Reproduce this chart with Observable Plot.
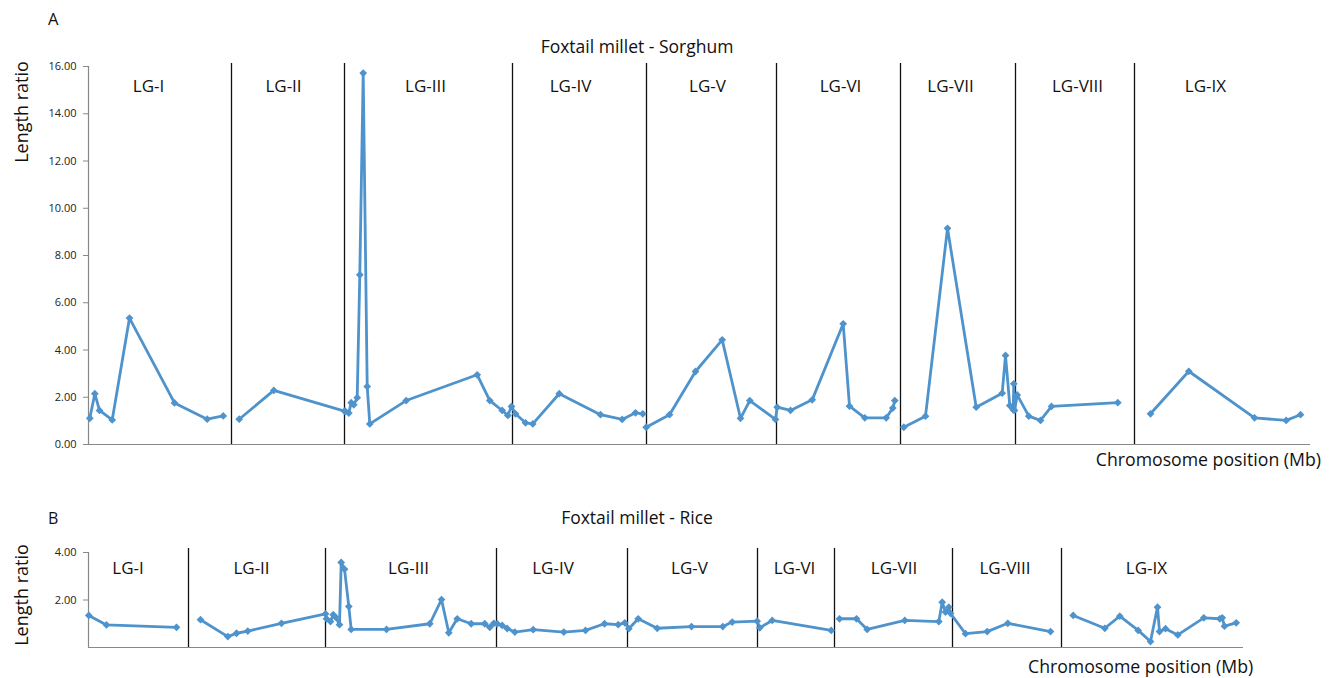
<!DOCTYPE html>
<html>
<head>
<meta charset="utf-8">
<script src="https://cdn.jsdelivr.net/npm/d3@7"></script>
<script src="https://cdn.jsdelivr.net/npm/@observablehq/plot@0.6"></script>
<style>
  html, body { margin: 0; padding: 0; background: #fff; }
  #wrap { position: relative; width: 1334px; height: 678px; font-family: "Open Sans", "Noto Sans", sans-serif; color: #111; overflow: hidden; }
  .abs { position: absolute; white-space: nowrap; line-height: 1; }
  .panel { position: absolute; left: 0; }
  .panel svg g[aria-label="y-axis tick"] path { stroke: #888; }
</style>
</head>
<body>
<div id="wrap">
  <div class="panel" id="panelA" style="top:0px"></div>
  <div class="panel" id="panelB" style="top:500px"></div>
  <div class="abs" style="left:48px;top:11px;font-size:16.5px">A</div>
  <div class="abs" style="left:637px;top:38px;font-size:17.5px;transform:translateX(-50%)">Foxtail millet - Sorghum</div>
  <div class="abs" style="left:21px;top:112px;font-size:18px;transform:translate(-50%,-50%) rotate(-90deg)">Length ratio</div>
  <div class="abs" style="right:13px;top:451px;font-size:17.7px">Chromosome position (Mb)</div>
  <div class="abs" style="left:48px;top:510px;font-size:16px">B</div>
  <div class="abs" style="left:637px;top:509px;font-size:17.5px;transform:translateX(-50%)">Foxtail millet - Rice</div>
  <div class="abs" style="left:21px;top:595px;font-size:18px;transform:translate(-50%,-50%) rotate(-90deg)">Length ratio</div>
  <div class="abs" style="left:1028px;top:658px;font-size:17.7px">Chromosome position (Mb)</div>
</div>
<script>
// ---------- shared ----------
const lgNames = ["LG-I","LG-II","LG-III","LG-IV","LG-V","LG-VI","LG-VII","LG-VIII","LG-IX"];

// ---------- Panel A: Foxtail millet - Sorghum ----------
const posA = [
  1.3, 6.3, 11, 23.7, 41, 86, 118.7, 134.7,
  150.7, 185.3, 256,
  257, 260.3, 262.7, 265.3, 268.7, 271.3, 274.7, 278.7, 281.3, 317.7, 388.7, 401.3, 413.7, 419.3, 423,
  427, 437, 444.3, 470.7, 512, 533.7, 547, 554.3,
  557.7, 581, 607, 633.7, 652, 661.3, 687,
  688.7, 702, 723.7, 754.7, 761, 776.3, 797.7, 804.3, 806.3,
  815.3, 837, 859, 887.7, 913.7, 917, 921.3, 924.7,
  925.3, 926, 928.7, 940.3, 952, 963, 1029.3,
  1062, 1100.3, 1166, 1197.7, 1212
];
const ratioA = [
  1.11, 2.15, 1.44, 1.04, 5.35, 1.76, 1.07, 1.21,
  1.07, 2.29, 1.41,
  1.40, 1.33, 1.77, 1.68, 1.98, 7.18, 15.72, 2.45, 0.87, 1.86, 2.95, 1.86, 1.44, 1.23, 1.61,
  1.30, 0.92, 0.87, 2.15, 1.26, 1.06, 1.34, 1.30,
  0.73, 1.26, 3.09, 4.43, 1.11, 1.86, 1.06,
  1.58, 1.44, 1.89, 5.11, 1.62, 1.13, 1.13, 1.54, 1.86,
  0.73, 1.20, 9.15, 1.58, 2.17, 3.77, 1.65, 1.47,
  2.57, 1.44, 2.10, 1.20, 1.02, 1.61, 1.77,
  1.30, 3.10, 1.13, 1.02, 1.26
];
const segA = [
  0,0,0,0,0,0,0,0,
  1,1,1,
  1,1,1,1,1,1,1,1,1,1,1,1,1,1,1,
  1,1,1,1,1,1,1,1,
  2,2,2,2,2,2,2,
  2,2,2,2,2,2,2,2,2,
  3,3,3,3,3,3,3,3,
  3,3,3,3,3,3,3,
  4,4,4,4,4
];
const sepA = [143, 256, 424, 558, 688, 812, 927, 1046];
const labelPosA = [60, 195, 337, 482, 619, 752, 862, 989, 1117];
const ticksA = [0, 2, 4, 6, 8, 10, 12, 14, 16];

// ---------- Panel B: Foxtail millet - Rice ----------
const posB = [
  0.3, 18, 88,
  112, 139.3, 148, 159.3, 193, 237,
  238, 242, 244.7, 247, 251, 252.7, 256, 260.3, 262.7, 298, 341.3, 353, 360.3, 368.7, 382.7, 396.3, 401.3, 405.3, 408.7,
  413.7, 418.7, 426.3, 444.7, 475.3, 497, 516, 529.7, 536.3,
  540.3, 549.7, 568.7, 603, 634.3, 643.7, 668.7,
  671.3, 683.7, 742.7,
  751, 768, 778.7, 816.3, 850.3, 853.7, 857, 860.3,
  862, 877, 898.7, 919.3, 962,
  984.7, 1016.3, 1031.3, 1049.7, 1062, 1069, 1071, 1077, 1089.3, 1115.3, 1131.3, 1133.7, 1136, 1147.7
];
const ratioB = [
  1.35, 0.95, 0.85,
  1.17, 0.46, 0.60, 0.69, 1.02, 1.42,
  1.21, 1.09, 1.38, 1.28, 0.96, 3.58, 3.30, 1.73, 0.76, 0.76, 1.00, 2.02, 0.62, 1.21, 1.00, 1.00, 0.85, 1.02, 1.00,
  0.93, 0.80, 0.65, 0.75, 0.65, 0.72, 1.00, 0.96, 1.04,
  0.79, 1.21, 0.81, 0.88, 0.88, 1.07, 1.11,
  0.83, 1.14, 0.72,
  1.21, 1.21, 0.76, 1.14, 1.09, 1.91, 1.49, 1.70,
  1.44, 0.58, 0.67, 1.02, 0.67,
  1.35, 0.81, 1.32, 0.72, 0.25, 1.70, 0.67, 0.79, 0.53, 1.25, 1.21, 1.25, 0.90, 1.04
];
const segB = [
  0,0,0,
  1,1,1,1,1,1,
  1,1,1,1,1,1,1,1,1,1,1,1,1,1,1,1,1,1,1,
  1,1,1,1,1,1,1,1,1,
  1,1,1,1,1,1,1,
  1,1,1,
  2,2,2,2,2,2,2,2,
  2,2,2,2,2,
  3,3,3,3,3,3,3,3,3,3,3,3,3,3
];
const sepB = [100, 237, 408, 539, 669, 746, 864, 973];
const labelPosB = [39.5, 163, 320, 464.5, 601, 706, 805.5, 916.5, 1058];
const ticksB = [2, 4];

// ---------- drawing ----------
const lineColor = "#4f93cc";
const axisGray = "#888888";

function panel({pos, ratio, seg, seps, labelPos, ticks, xMax, yMax, sepTop, labelY, height, marginTop, marginBottom, marginRight}) {
  const pts = pos.map((p, i) => ({x: p, y: ratio[i], s: seg[i]}));
  const labels = lgNames.map((n, i) => ({x: labelPos[i], name: n}));
  return Plot.plot({
    width: 1334,
    height,
    marginLeft: 88,
    marginRight,
    marginTop,
    marginBottom,
    style: {fontFamily: "'Open Sans', 'Noto Sans', sans-serif", fontSize: "11px", color: "#222", background: "white"},
    x: {domain: [0, xMax], axis: null},
    y: {domain: [0, yMax], ticks, tickFormat: d => d.toFixed(2), tickSize: 5, tickPadding: 7, label: null},
    marks: [
      Plot.ruleY([0], {stroke: axisGray, strokeWidth: 1.2}),
      Plot.ruleX([0], {stroke: axisGray, strokeWidth: 1.2}),
      Plot.ruleX(seps, {x: d => d, y1: 0, y2: sepTop, stroke: "#111", strokeWidth: 1.3}),
      Plot.text(labels, {x: "x", y: () => labelY, text: "name", fontSize: 17, fill: "#111", lineAnchor: "middle"}),
      Plot.line(pts, {x: "x", y: "y", z: "s", stroke: lineColor, strokeWidth: 2.8, strokeLinejoin: "round"}),
      Plot.dot(pts, {x: "x", y: "y", symbol: "diamond2", r: 3.5, fill: lineColor, stroke: "none"})
    ]
  });
}

document.getElementById("panelA").appendChild(panel({
  pos: posA, ratio: ratioA, seg: segA, seps: sepA, labelPos: labelPosA, ticks: ticksA,
  xMax: 1222, yMax: 16, sepTop: 16.13, labelY: 15.14,
  height: 480, marginTop: 66, marginBottom: 36, marginRight: 24
}));

document.getElementById("panelB").appendChild(panel({
  pos: posB, ratio: ratioB, seg: segB, seps: sepB, labelPos: labelPosB, ticks: ticksB,
  xMax: 1155, yMax: 4, sepTop: 4.17, labelY: 3.31,
  height: 178, marginTop: 52, marginBottom: 31, marginRight: 91
}));
</script>
</body>
</html>
